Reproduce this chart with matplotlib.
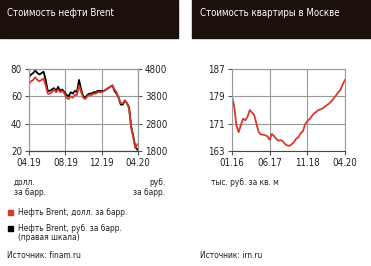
import matplotlib
matplotlib.use("Agg")
import matplotlib.pyplot as plt
import matplotlib.dates as mdates
from matplotlib.patches import Rectangle
import pandas as pd

plt.rcParams['font.family'] = ['DejaVu Sans']
plt.rcParams['font.stretch'] = 'condensed'

# --- data ---
brent_usd = [69, 71, 72, 74, 72, 71, 72, 73, 68, 62, 62, 63, 65, 63, 65, 63, 64, 62,
             59, 58, 60, 59, 61, 61, 68, 63, 59, 58, 60, 61, 61, 62, 62, 63, 63, 63,
             64, 65, 66, 67, 68, 65, 63, 59, 55, 55, 57, 55, 51, 37, 30, 22, 25]
brent_rub = [4500, 4600, 4650, 4750, 4650, 4600, 4650, 4700, 4400, 4000, 4000, 4050,
             4100, 4000, 4150, 4000, 4050, 3950, 3850, 3800, 3950, 3900, 4000, 3950,
             4400, 4050, 3800, 3750, 3850, 3900, 3900, 3950, 3950, 4000, 4000, 4000,
             4000, 4050, 4100, 4150, 4200, 4000, 3900, 3750, 3500, 3500, 3650, 3550,
             3400, 2700, 2350, 1950, 1850]
brent_dates = pd.date_range('2019-04-01', periods=len(brent_usd), freq='7D')

flat_price = [179.0, 176.0, 170.5, 168.5, 170.5, 172.5, 172.0, 173.0, 175.0, 174.3,
              173.5, 171.0, 168.6, 167.8, 167.8, 167.6, 167.3, 166.3, 168.0, 167.4,
              166.5, 166.0, 166.2, 165.8, 165.0, 164.6, 164.5, 165.0, 165.6, 166.6,
              167.0, 168.2, 168.8, 170.8, 171.8, 172.3, 173.2, 174.0, 174.4, 175.0,
              175.2, 175.5, 176.0, 176.5, 177.0, 177.6, 178.5, 179.3, 180.2, 181.0,
              182.5, 183.8]
flat_dates = pd.date_range('2016-01-01', periods=len(flat_price), freq='MS')

left_ticks = ['2019-04-01', '2019-08-01', '2019-12-01', '2020-04-01']
right_ticks = ['2016-01-01', '2017-06-01', '2018-11-01', '2020-04-01']

RED = '#d8392b'
DARK = '#1c100c'
GRID = '#9a9a9a'
TXT = '#222222'
SMALL = 6.0

W, H = 371, 266
fig = plt.figure(figsize=(W / 100, H / 100), dpi=100)


def fx(px):
    return px / W


def fy(py):
    return 1 - py / H


# title bars
fig.patches.append(Rectangle((0, fy(38)), fx(178), 38 / H, transform=fig.transFigure,
                             color=DARK, zorder=0))
fig.patches.append(Rectangle((fx(192), fy(38)), fx(179), 38 / H, transform=fig.transFigure,
                             color=DARK, zorder=0))
fig.text(fx(7), fy(13), 'Стоимость нефти Brent', color='white', fontsize=6.9, va='center')
fig.text(fx(200), fy(13), 'Стоимость квартиры в Москве', color='white', fontsize=6.9,
         va='center')


def style(ax):
    for s in ['left', 'right', 'top']:
        ax.spines[s].set_color(GRID)
        ax.spines[s].set_linewidth(0.8)
    ax.spines['bottom'].set_color('#444444')
    ax.spines['bottom'].set_linewidth(0.8)
    ax.tick_params(direction='out', length=3, width=0.8, color='#555555',
                   labelsize=7, labelcolor=TXT, pad=2)


# left chart
ax2 = fig.add_axes([fx(29), fy(151), fx(109), 82 / H])
ax1 = ax2.twinx()
ax1.set_zorder(ax2.get_zorder() + 1)
ax1.patch.set_visible(False)

ax2.plot(brent_dates, brent_rub, color='black', lw=1.3)
ax1.plot(brent_dates, brent_usd, color=RED, lw=1.3)

ax2.set_ylim(1800, 4800)
ax2.set_yticks([1800, 2800, 3800, 4800])
ax2.yaxis.tick_right()
ax1.yaxis.tick_left()
ax1.set_ylim(20, 80)
ax1.set_yticks([20, 40, 60, 80])
ax2.set_xlim(pd.Timestamp('2019-04-01'), pd.Timestamp('2020-04-01'))
ax2.set_xticks(pd.to_datetime(left_ticks))
ax2.xaxis.set_major_formatter(mdates.DateFormatter('%m.%y'))
ax2.grid(True, color=GRID, lw=0.8)
style(ax1)
style(ax2)

# right chart
ax3 = fig.add_axes([fx(232), fy(151), fx(113), 82 / H])
ax3.plot(flat_dates, flat_price, color=RED, lw=1.3)
ax3.set_ylim(163, 187)
ax3.set_yticks([163, 171, 179, 187])
ax3.set_xlim(pd.Timestamp('2016-01-01'), pd.Timestamp('2020-04-01'))
ax3.set_xticks(pd.to_datetime(right_ticks))
ax3.xaxis.set_major_formatter(mdates.DateFormatter('%m.%y'))
ax3.grid(True, color=GRID, lw=0.8)
style(ax3)

# captions
fig.text(fx(14), fy(182), 'долл.', fontsize=SMALL, color=TXT, va='center')
fig.text(fx(14), fy(192), 'за барр.', fontsize=SMALL, color=TXT, va='center')
fig.text(fx(165), fy(182), 'руб.', fontsize=SMALL, color=TXT, va='center', ha='right')
fig.text(fx(165), fy(192), 'за барр.', fontsize=SMALL, color=TXT, va='center', ha='right')
fig.text(fx(211), fy(182), 'тыс. руб. за кв. м', fontsize=SMALL, color=TXT, va='center')

# legend
fig.patches.append(Rectangle((fx(8), fy(215)), fx(5), 5 / H, transform=fig.transFigure,
                             color=RED))
fig.text(fx(18), fy(212), 'Нефть Brent, долл. за барр.', fontsize=SMALL, color=TXT,
         va='center')
fig.patches.append(Rectangle((fx(8), fy(231)), fx(5), 5 / H, transform=fig.transFigure,
                             color='black'))
fig.text(fx(18), fy(228), 'Нефть Brent, руб. за барр.', fontsize=SMALL, color=TXT,
         va='center')
fig.text(fx(18), fy(238), '(правая шкала)', fontsize=SMALL, color=TXT, va='center')

fig.text(fx(7), fy(256), 'Источник: finam.ru', fontsize=SMALL, color=TXT, va='center')
fig.text(fx(200), fy(255), 'Источник: irn.ru', fontsize=SMALL, color=TXT, va='center')

fig.savefig('out.png', dpi=100)
